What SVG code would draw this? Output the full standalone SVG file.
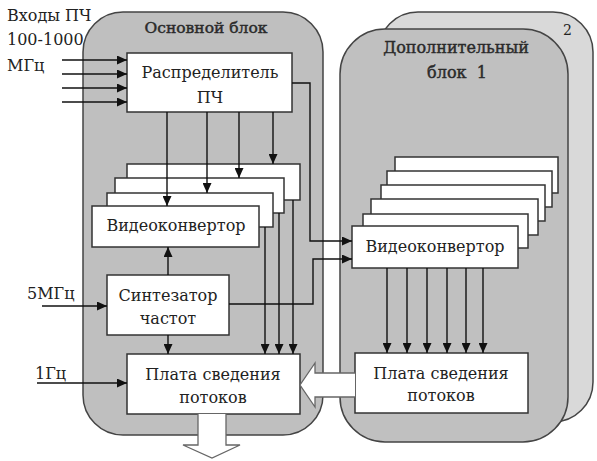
<svg xmlns="http://www.w3.org/2000/svg" width="597" height="461" viewBox="0 0 597 461">
<style>
.blk{stroke:#444;stroke-width:1.5}
.box{fill:#fff;stroke:#333;stroke-width:1.5}
.t{font-family:"DejaVu Serif","Liberation Serif",serif;font-size:16px;fill:#222;text-anchor:middle}
.tl{font-family:"DejaVu Serif","Liberation Serif",serif;font-size:16px;fill:#222}
.hd{fill:#2a2a2a;stroke:#2a2a2a;stroke-width:0.45}
.c{fill:none;stroke:#111;stroke-width:1.4}
.ca{fill:none;stroke:#111;stroke-width:1.4;marker-end:url(#ah)}
.hollow{fill:#fff;stroke:#666;stroke-width:1.3}
</style>
<defs>
<marker id="ah" markerWidth="10" markerHeight="9" refX="10" refY="4.5" orient="auto" markerUnits="userSpaceOnUse">
<path d="M0,0 L10,4.5 L0,9 z" fill="#111"/>
</marker>
</defs>
<rect width="597" height="461" fill="#fff"/>

<g id="block2">
<rect class="blk" x="378" y="12" width="215" height="410" rx="40" fill="#d9d9d9"/>
<text class="tl" x="563" y="35" style="font-size:14px">2</text>
</g>

<g id="main-block">
<rect class="blk" x="83" y="12" width="240" height="423" rx="40" fill="#bfbfbf"/>
<text class="t hd" x="206" y="33" style="font-size:15.5px">Основной блок</text>
</g>

<g id="block1">
<rect class="blk" x="340" y="29" width="228" height="413" rx="45" fill="#c0c0c0"/>
<text class="t hd" x="456" y="53">Дополнительный</text>
<text class="t hd" x="457" y="78" style="white-space:pre" xml:space="preserve">блок  1</text>
</g>

<g id="inputs-label">
<text class="tl" x="7" y="21">Входы ПЧ</text>
<text class="tl" x="7" y="45">100-1000</text>
<text class="tl" x="7" y="71">МГц</text>
<text class="tl" x="27" y="299">5МГц</text>
<text class="tl" x="35" y="379">1Гц</text>
</g>

<g id="distributor">
<rect class="box" x="127" y="53" width="165" height="59"/>
<text class="t" x="210" y="78">Распределитель</text>
<text class="t" x="210" y="103">ПЧ</text>
</g>

<g id="videoconverter-main">
<rect class="box" x="127" y="164" width="173" height="36"/>
<rect class="box" x="115" y="178" width="169" height="35"/>
<rect class="box" x="107" y="193" width="166" height="34"/>
<rect class="box" x="92" y="206" width="167" height="41"/>
<text class="t" x="176" y="231">Видеоконвертор</text>
</g>

<g id="synthesizer">
<rect class="box" x="107" y="275" width="122" height="60"/>
<text class="t" x="168" y="301">Синтезатор</text>
<text class="t" x="168" y="324">частот</text>
</g>

<g id="plata-main">
<rect class="box" x="127" y="354" width="173" height="60"/>
<text class="t" x="213" y="380">Плата сведения</text>
<text class="t" x="213" y="403">потоков</text>
</g>

<g id="videoconverter-add">
<rect class="box" x="395" y="157" width="163" height="36"/>
<rect class="box" x="387" y="171" width="165" height="36"/>
<rect class="box" x="381" y="185" width="164" height="36"/>
<rect class="box" x="371" y="199" width="167" height="36"/>
<rect class="box" x="363" y="214" width="165" height="34"/>
<rect class="box" x="352" y="226" width="166" height="42"/>
<text class="t" x="435" y="252">Видеоконвертор</text>
</g>

<g id="plata-add">
<rect class="box" x="355" y="353" width="173" height="60"/>
<text class="t" x="441" y="379">Плата сведения</text>
<text class="t" x="441" y="401">потоков</text>
</g>

<g id="connectors">
<line class="ca" x1="62" y1="60" x2="127" y2="60"/>
<line class="ca" x1="62" y1="74" x2="127" y2="74"/>
<line class="ca" x1="62" y1="88" x2="127" y2="88"/>
<line class="ca" x1="62" y1="102" x2="127" y2="102"/>
<line class="ca" x1="167" y1="112" x2="167" y2="206"/>
<line class="ca" x1="207" y1="112" x2="207" y2="193"/>
<line class="ca" x1="239" y1="112" x2="239" y2="178"/>
<line class="ca" x1="273" y1="112" x2="273" y2="164"/>
<polyline class="ca" points="292,83 310,83 310,241 352,241"/>
<polyline class="ca" points="229,304 313,304 313,259 352,259"/>
<line class="ca" x1="168" y1="275" x2="168" y2="247"/>
<line class="ca" x1="168" y1="335" x2="168" y2="354"/>
<line class="ca" x1="42" y1="306" x2="107" y2="306"/>
<line class="ca" x1="37" y1="383" x2="127" y2="383"/>
<line class="ca" x1="265" y1="227" x2="265" y2="354"/>
<line class="ca" x1="279" y1="213" x2="279" y2="354"/>
<line class="ca" x1="293" y1="200" x2="293" y2="354"/>
<line class="ca" x1="387" y1="268" x2="387" y2="353"/>
<line class="ca" x1="407" y1="268" x2="407" y2="353"/>
<line class="ca" x1="427" y1="268" x2="427" y2="353"/>
<line class="ca" x1="447" y1="268" x2="447" y2="353"/>
<line class="ca" x1="466" y1="268" x2="466" y2="353"/>
<line class="ca" x1="483" y1="268" x2="483" y2="353"/>
<path class="hollow" d="M355,373 L315,373 L315,363 L300,385 L315,407 L315,397 L355,397"/>
<path class="hollow" d="M198,414 L198,445 L183,445 L212,458 L240,445 L226,445 L226,414"/>
</g>
</svg>
